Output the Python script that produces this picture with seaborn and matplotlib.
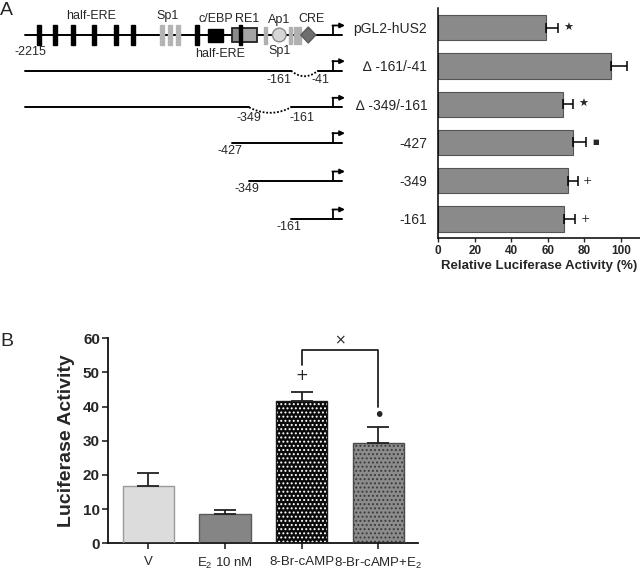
import numpy as np
import pandas as pd
import matplotlib.pyplot as plt
import seaborn as sns
from matplotlib.patches import Rectangle, Circle, Polygon

# panel A: promoter constructs and relative luciferase activity
constructs = ["pGL2-hUS2", "\u2206 -161/-41", "\u2206 -349/-161", "-427", "-349", "-161"]
rel_activity = [59.1, 94.5, 68.1, 73.6, 70.8, 68.6]
rel_err = [6.4, 8.9, 5.5, 7.1, 5.5, 6.4]
rel_marks = ["\u2605", "", "\u2605", "\u25a0", "+", "+"]
construct_start = [-2215, -2215, -2215, -427, -349, -161]
construct_gap = [None, (-161, -41), (-349, -161), None, None, None]

# panel B: treatments
treatments = ["V", "E$_2$ 10 nM", "8-Br-cAMP", "8-Br-cAMP+E$_2$"]
luc_activity = [16.8, 8.6, 41.6, 29.3]
luc_err = [3.7, 1.1, 2.8, 4.8]
luc_marks = ["", "", "+", "\u2022"]

sns.set_style("ticks")
plt.rcParams["font.family"] = ["Liberation Sans", "DejaVu Sans"]
plt.rcParams["mathtext.fontset"] = "custom"
plt.rcParams["mathtext.rm"] = "Liberation Sans"
plt.rcParams["hatch.linewidth"] = 0.9

fig = plt.figure(figsize=(6.4, 5.73), dpi=100)

# overlay axes in pixel units for the schematic
ov = fig.add_axes([0, 0, 1, 1])
ov.set_xlim(0, 640)
ov.set_ylim(573, 0)
ov.axis("off")


def bp2px(bp):
    return np.interp(bp, [-2215, -427, 0], [25, 231.7, 327])


row_y = [35, 70.7, 107.3, 142.7, 181, 219]
line_end = 341.7
fs_pos = 9
for i, (start, gap) in enumerate(zip(construct_start, construct_gap)):
    y = row_y[i]
    x0 = bp2px(start)
    if gap is None:
        ov.plot([x0, line_end], [y, y], color="black", lw=1.4, zorder=1)
        if i > 0:
            ov.text(x0 - 2, y + 8.5, str(start), ha="center", va="center", fontsize=fs_pos)
    else:
        g0, g1 = bp2px(gap[0]), bp2px(gap[1])
        ov.plot([x0, g0], [y, y], color="black", lw=1.4)
        ov.plot([g1, line_end], [y, y], color="black", lw=1.4)
        t = np.linspace(0, 1, 30)
        ov.plot(g0 + (g1 - g0) * t, y + 22 * t * (1 - t), color="black", lw=1.3, ls=(0, (1, 1)))
        if i == 1:
            ov.text(g0, y + 9.5, str(gap[0]), ha="right", va="center", fontsize=fs_pos)
            ov.text(g1 - 6, y + 9.5, str(gap[1]), ha="left", va="center", fontsize=fs_pos)
        else:
            ov.text(g0, y + 10.5, str(gap[0]), ha="center", va="center", fontsize=fs_pos)
            ov.text(g1 - 2, y + 10.5, str(gap[1]), ha="left", va="center", fontsize=fs_pos)
    # promoter arrow
    ov.plot([333, 333], [y, y - 9.5], color="black", lw=1.3)
    ov.annotate("", xy=(345, y - 9.5), xytext=(332.4, y - 9.5),
                arrowprops=dict(arrowstyle="-|>", color="black", lw=1.3,
                                mutation_scale=7, shrinkA=0, shrinkB=0))

# elements on the full-length promoter
y0 = row_y[0]
for x in [39, 55, 72.7, 94.3, 115.7, 133.3, 196.7]:
    ov.add_patch(Rectangle((x - 2, y0 - 10), 4, 19.5, color="black", zorder=3))
for x in [161.7, 170, 178.3]:
    ov.add_patch(Rectangle((x - 2, y0 - 10), 4, 19.5, color="#b4b4b4", zorder=3))
for x in [265.7, 290.5, 295, 299.5]:
    ov.add_patch(Rectangle((x - 1.5, y0 - 8.5), 3, 17, color="#b0b0b0", zorder=3))
ov.add_patch(Rectangle((208, y0 - 6.5), 15, 13, color="black", zorder=3))
ov.add_patch(Rectangle((231.7, y0 - 6.8), 25.6, 13.6, fc="#a4a4a4", ec="#222222", lw=1.3, zorder=3))
ov.add_patch(Rectangle((232.5, y0 - 6), 9, 12, fc="#8a8a8a", ec="none", zorder=3))
ov.add_patch(Rectangle((238.5, y0 - 10), 3, 19.5, color="black", zorder=4))
ov.add_patch(Circle((279.3, y0), 6.8, fc="#d6d6d6", ec="#8c8c8c", lw=1, zorder=3))
ov.add_patch(Polygon([(300.8, y0), (308.3, y0 - 8), (315.8, y0), (308.3, y0 + 8)],
                     closed=True, fc="#6e6e6e", ec="#5a5a5a", zorder=3))
fs_el = 9
ov.text(90.7, 16, "half-ERE", ha="center", va="center", fontsize=fs_el)
ov.text(168, 16, "Sp1", ha="center", va="center", fontsize=fs_el)
ov.text(216.3, 19.5, "c/EBP", ha="center", va="center", fontsize=fs_el)
ov.text(247.5, 19.5, "RE1", ha="center", va="center", fontsize=fs_el)
ov.text(279.3, 19.5, "Ap1", ha="center", va="center", fontsize=fs_el)
ov.text(311.7, 19.5, "CRE", ha="center", va="center", fontsize=fs_el)
ov.text(279.3, 51, "Sp1", ha="center", va="center", fontsize=fs_el)
ov.text(220, 54, "half-ERE", ha="center", va="center", fontsize=fs_el)
ov.text(30, 52, "-2215", ha="center", va="center", fontsize=fs_pos)
ov.text(0, 10.5, "A", ha="left", va="center", fontsize=14)
ov.text(0, 342, "B", ha="left", va="center", fontsize=14)

# panel A bar chart
axA = fig.add_axes([0.6848, 0.5846, 0.3152, 0.4018])
dfA = pd.DataFrame({"construct": constructs, "activity": rel_activity})
sns.barplot(data=dfA, x="activity", y="construct", orient="h", color="#8a8a8a",
            edgecolor="#555555", linewidth=0.8, width=0.66, errorbar=None, ax=axA)
axA.errorbar(rel_activity, np.arange(len(constructs)), xerr=[np.zeros(len(rel_err)), rel_err],
             fmt="none", ecolor="black", elinewidth=1.1, capsize=3.6, capthick=1.1)
for i, m in enumerate(rel_marks):
    if m:
        fs = 5 if m == "\u25a0" else 8
        axA.text(rel_activity[i] + rel_err[i] + 5.5, i, m, ha="center", va="center",
                 fontsize=fs, family=["DejaVu Sans"])
axA.set_xlim(0, 110.4)
axA.set_ylim(len(constructs) - 0.5, -0.52)
axA.set_xticks([0, 20, 40, 60, 80, 100])
axA.tick_params(axis="y", length=0, pad=8, labelsize=10)
axA.tick_params(axis="x", length=3, width=1, labelsize=8.5, pad=2)
for lab in axA.get_xticklabels():
    lab.set_fontweight("bold")
axA.set_ylabel("")
axA.set_xlabel("Relative Luciferase Activity (%)", fontsize=9.5, fontweight="bold", labelpad=2)
sns.despine(ax=axA)
for s in ["left", "bottom"]:
    axA.spines[s].set_linewidth(1.1)
    axA.spines[s].set_color("black")

# panel B bar chart
axB = fig.add_axes([0.1692, 0.0518, 0.4844, 0.3578])
dfB = pd.DataFrame({"treatment": treatments, "activity": luc_activity})
face = ["#dcdcdc", "#858585", "#0a0a0a", "#8c8c8c"]
sns.barplot(data=dfB, x="treatment", y="activity", hue="treatment", palette=face,
            legend=False, width=0.668, errorbar=None, linewidth=0, ax=axB)
edge = ["#9a9a9a", "#5a5a5a", "#1a1a1a", "#4a4a4a"]
hatch_col = [None, None, "white", "#3a3a3a"]
for i, p in enumerate(axB.patches[:len(treatments)]):
    if hatch_col[i]:
        p.set_hatch("....")
        p.set_edgecolor(hatch_col[i])
        p.set_linewidth(0)
    axB.add_patch(Rectangle(p.get_xy(), p.get_width(), p.get_height(), fill=False,
                            ec=edge[i], lw=1.0, zorder=3))
axB.errorbar(np.arange(len(treatments)), luc_activity, yerr=[np.zeros(len(luc_err)), luc_err],
             fmt="none", ecolor="#222222", elinewidth=1.3, capsize=7.8, capthick=1.3, zorder=4)
for i, m in enumerate(luc_marks):
    if m:
        off = 4.8 if m == "+" else 3.2
        axB.text(i, luc_activity[i] + luc_err[i] + off, m, ha="center", va="center",
                 fontsize=11 if m == "+" else 14, family=["DejaVu Sans"])
top = luc_activity[2] + luc_err[2] + 12.2
axB.plot([2, 2, 3, 3], [luc_activity[2] + luc_err[2] + 7.8, top, top, luc_activity[3] + luc_err[3] + 5.9],
         color="#222222", lw=1.3, clip_on=False)
axB.text(2.5, top + 2.9, "\u00d7", ha="center", va="center", fontsize=10, family=["DejaVu Sans"])
axB.set_xlim(-0.52, len(treatments) - 0.48)
axB.set_ylim(0, 60)
axB.set_yticks([0, 10, 20, 30, 40, 50, 60])
axB.tick_params(axis="y", length=4, width=1.2, labelsize=11, pad=2)
axB.tick_params(axis="x", length=4, width=1.2, labelsize=9.5, pad=5)
for lab in axB.get_yticklabels():
    lab.set_fontweight("bold")
axB.set_xlabel("")
axB.set_ylabel("Luciferase Activity", fontsize=14, fontweight="bold", labelpad=6)
sns.despine(ax=axB)
for s in ["left", "bottom"]:
    axB.spines[s].set_linewidth(1.3)
    axB.spines[s].set_color("#111111")

fig.savefig("out.png", dpi=100)
